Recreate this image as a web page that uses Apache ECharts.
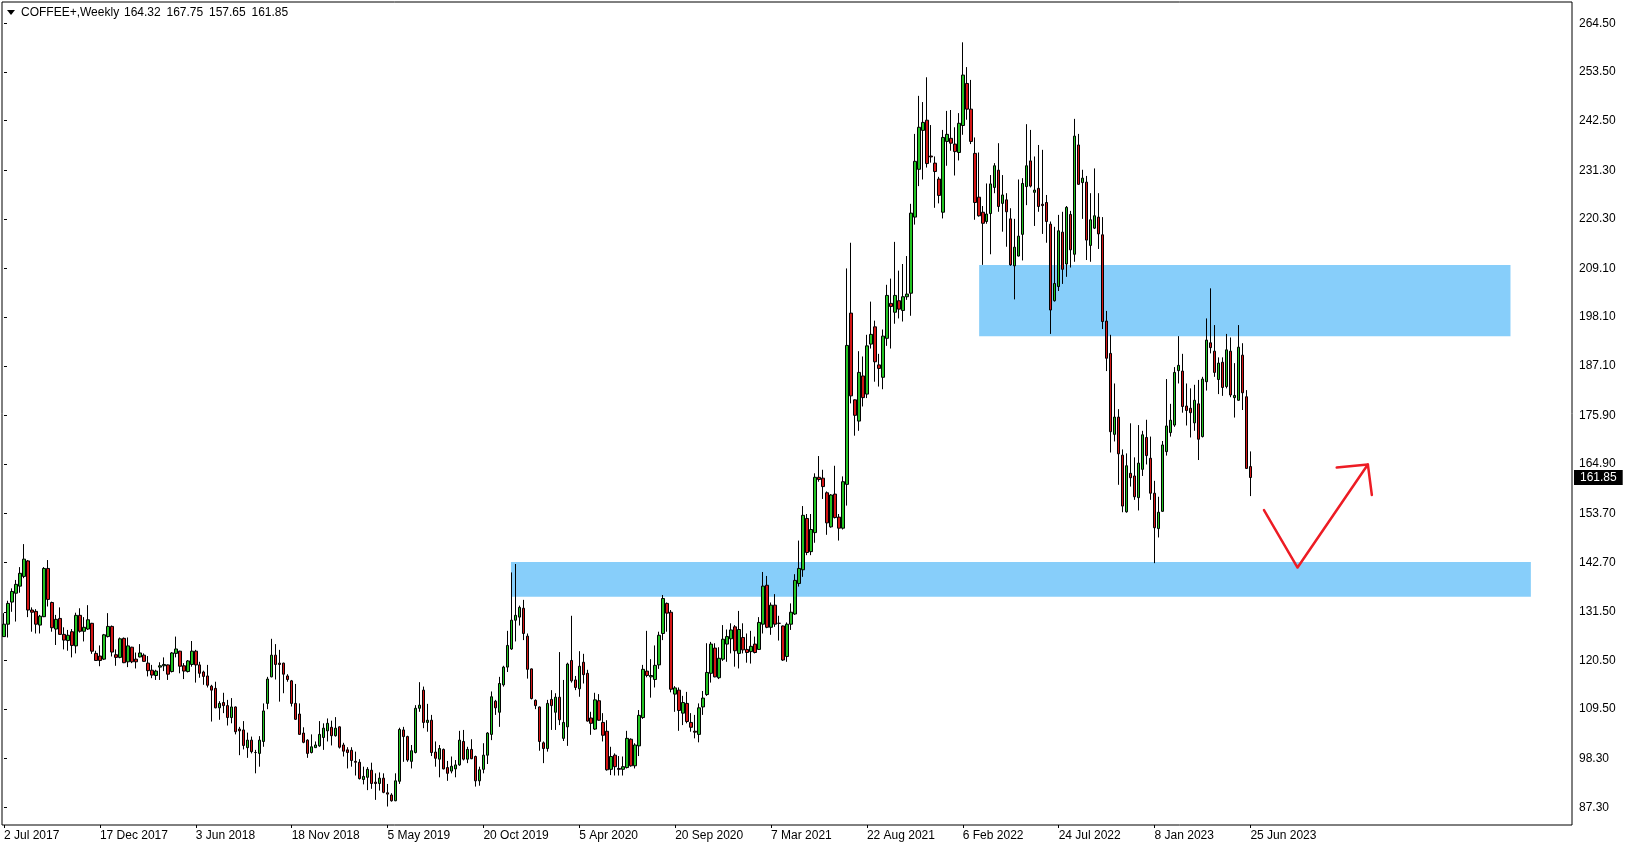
<!DOCTYPE html>
<html>
<head>
<meta charset="utf-8">
<script src="https://cdn.jsdelivr.net/npm/echarts@6/dist/echarts.min.js"></script>
<style>
html,body{margin:0;padding:0;background:#fff;}
#chart{width:1629px;height:850px;}
</style>
</head>
<body>
<div id="chart"></div>
<script>
// ---- data (weekly bars, 2 Jul 2017 .. 25 Jun 2023) ----
const opens = [
125.9,128.7,133.7,135.7,137.3,139.5,143.0,131.9,131.6,128.5,
130.4,141.3,133.6,127.6,130.0,126.4,125.0,127.0,123.8,130.7,
127.1,127.6,128.9,122.1,121.5,120.8,125.9,128.2,121.8,121.2,
125.5,120.2,123.5,120.8,121.3,121.7,119.9,118.3,117.1,119.0,
119.3,119.5,118.0,122.1,122.6,119.3,118.0,119.6,122.6,119.5,
117.9,117.0,114.7,114.2,109.8,111.0,110.3,107.6,110.0,105.0,
104.8,100.8,102.5,99.7,99.5,102.2,110.8,116.8,121.7,119.9,
119.9,117.0,115.9,110.8,108.4,104.1,102.5,99.7,100.8,101.2,
103.1,104.6,105.4,103.5,105.5,101.4,100.3,100.2,97.7,97.5,
93.6,94.1,95.7,93.0,92.7,93.9,90.6,90.1,88.8,93.2,
104.8,103.3,97.7,99.7,109.7,113.8,106.5,107.0,99.8,98.2,
100.4,96.3,95.5,96.0,96.9,102.2,98.2,100.4,98.8,93.3,
95.9,99.1,103.8,111.3,108.8,115.0,119.0,123.1,129.6,130.3,
132.3,126.0,118.6,111.5,110.0,101.9,100.6,111.7,108.8,112.2,
102.9,105.5,120.5,116.1,114.1,120.1,117.6,107.5,105.0,111.4,
106.5,104.5,95.9,99.1,96.1,95.9,96.3,102.7,96.7,101.2,
107.6,118.1,116.8,116.2,119.5,126.6,133.4,131.4,112.9,113.8,
108.6,110.8,106.5,104.5,103.8,110.0,112.8,117.6,123.3,116.6,
120.8,124.2,125.4,128.1,122.1,125.7,123.0,122.5,124.2,123.0,
128.7,137.5,128.0,133.0,128.9,128.3,121.4,128.7,131.0,137.9,
141.0,152.6,145.1,149.4,161.9,161.7,158.4,150.7,158.1,152.9,
150.4,160.3,199.0,179.4,174.6,184.8,180.7,192.0,195.9,187.3,
184.5,193.3,201.2,199.2,201.8,199.6,202.7,203.5,220.7,231.5,
240.3,242.6,234.5,232.9,229.3,221.8,237.8,238.5,237.2,235.3,
241.4,250.9,245.1,235.1,225.2,221.8,219.7,221.5,227.4,231.3,
223.8,224.6,220.3,209.7,211.9,216.8,227.6,233.4,226.3,227.2,
223.6,224.0,219.1,201.8,205.0,217.3,210.1,221.3,212.3,237.0,
228.5,228.6,214.3,218.2,220.7,216.7,197.2,189.9,171.6,175.5,
166.9,154.1,162.8,162.2,157.3,163.7,170.9,166.2,158.3,150.3,
154.2,167.7,172.0,173.7,186.0,185.9,178.0,177.5,174.2,178.5,
171.1,183.5,192.3,190.4,184.0,187.9,182.4,190.4,179.9,179.3,
189.5,180.1,164.32
];
const highs = [
131.2,134.0,136.8,138.7,141.6,146.8,143.2,132.5,132.1,130.8,
141.6,143.2,133.8,130.8,132.5,128.0,127.4,127.6,131.3,132.3,
130.3,133.0,129.0,122.7,123.9,126.5,131.2,128.4,123.0,125.7,
125.7,125.7,123.6,122.3,124.2,122.1,121.5,119.5,118.4,120.1,
121.2,119.6,122.4,125.9,122.7,119.9,120.6,124.9,122.9,120.2,
118.2,119.5,115.0,115.7,111.3,113.2,111.6,112.0,110.1,105.5,
106.8,104.2,103.3,100.3,103.4,110.8,116.8,125.4,124.2,122.9,
120.0,117.4,116.1,115.2,110.8,105.4,102.7,103.8,102.2,106.8,
106.3,107.4,106.9,107.7,105.6,101.9,100.9,100.9,99.9,98.2,
96.5,96.4,97.4,95.0,95.2,95.0,92.6,90.5,95.0,105.3,
105.5,103.5,101.4,110.4,115.6,114.6,110.7,108.2,102.2,101.4,
100.6,97.8,98.8,98.0,104.6,104.8,101.0,102.7,99.0,96.5,
101.8,104.3,113.5,111.6,116.8,119.3,127.2,140.4,142.3,132.9,
134.2,126.6,118.7,111.7,110.1,102.2,111.6,113.8,113.1,122.4,
116.1,120.0,130.6,117.0,122.6,122.0,118.4,108.9,113.2,112.9,
108.6,107.0,101.0,99.5,98.9,98.8,104.6,102.9,101.8,109.3,
119.5,127.2,120.8,123.9,127.0,135.3,133.6,131.9,114.7,114.4,
112.5,113.4,108.6,108.2,110.8,113.6,124.4,124.7,124.4,123.5,
128.5,127.5,128.9,128.5,131.7,128.9,126.6,127.2,125.9,130.3,
140.5,139.6,133.6,135.5,130.6,128.4,129.1,133.4,140.0,147.6,
155.4,153.6,153.6,162.8,166.7,163.6,158.7,158.1,164.5,153.6,
162.1,209.1,214.9,179.5,190.4,189.2,194.1,201.6,197.3,189.8,
195.3,205.4,206.8,215.1,208.6,210.1,211.9,223.7,239.5,248.1,
246.7,252.3,241.5,234.4,229.8,240.4,244.7,244.9,241.0,244.2,
260.2,254.6,251.7,238.7,235.3,223.2,228.3,230.2,232.9,237.4,
230.2,226.1,222.7,220.3,229.2,229.5,241.7,240.4,234.4,237.0,
235.9,225.7,219.7,218.5,221.2,221.9,223.2,222.1,242.9,239.5,
231.4,230.0,226.1,231.7,226.1,220.7,199.5,194.1,183.1,177.3,
168.2,167.3,174.1,166.4,173.7,172.4,174.9,171.1,161.1,157.5,
170.1,184.1,178.5,186.8,193.8,189.8,183.1,182.0,182.8,183.9,
184.6,197.8,204.6,196.3,189.0,189.0,194.3,193.5,187.7,196.3,
192.2,181.6,167.75
];
const lows = [
125.9,125.7,131.5,129.3,135.8,139.1,130.3,127.0,126.6,126.6,
130.3,132.7,127.0,124.0,126.3,123.0,122.7,121.2,122.1,126.8,
124.8,127.4,122.0,120.4,119.2,120.6,125.7,121.4,119.3,121.0,
119.9,119.0,119.9,118.7,121.2,120.2,116.9,116.5,116.1,116.1,
118.1,116.1,117.8,121.2,117.6,116.3,117.8,119.1,115.5,116.6,
115.0,114.4,106.7,109.7,107.1,108.6,105.8,106.3,103.8,99.1,
100.4,98.5,99.5,95.0,96.5,101.0,109.5,116.7,116.2,111.2,
113.1,115.7,110.1,107.1,103.7,101.8,98.5,99.5,100.8,101.0,
100.3,102.2,101.3,103.3,100.6,98.8,96.1,96.5,94.5,93.6,
92.5,91.2,91.5,89.0,91.1,90.5,87.5,88.6,88.7,92.6,
97.6,97.6,96.1,99.5,108.9,105.2,104.4,98.9,96.5,94.1,
95.9,93.3,95.0,94.1,96.7,97.9,97.3,98.2,92.0,92.2,
95.0,97.1,102.5,108.2,105.5,114.6,117.9,122.9,124.8,128.4,
125.1,116.4,111.7,109.5,100.1,97.3,99.9,104.8,104.8,105.9,
102.3,101.2,115.5,113.8,112.3,115.3,106.7,103.7,104.8,106.9,
102.2,95.6,94.6,94.5,94.5,94.5,96.1,96.5,96.1,98.9,
107.3,116.7,112.1,114.4,118.6,125.1,127.0,113.3,108.9,104.6,
105.9,106.3,104.4,102.9,102.0,108.2,112.5,115.5,116.7,116.3,
120.4,120.2,122.1,119.1,118.7,122.1,120.0,119.8,122.1,122.9,
126.6,127.8,126.3,128.1,125.0,120.4,120.2,127.4,130.8,137.2,
139.4,144.3,144.3,147.1,160.9,157.0,148.9,150.5,152.6,147.6,
150.1,155.5,178.6,171.3,172.4,177.9,179.8,191.0,183.5,182.4,
181.8,191.6,191.0,196.6,197.8,197.1,202.0,198.4,219.0,227.7,
229.2,231.9,233.0,222.8,223.8,220.4,232.3,235.7,230.1,233.5,
239.3,242.7,237.2,220.1,220.8,209.9,219.2,212.3,226.1,221.9,
217.4,214.0,209.7,202.1,211.8,210.9,223.4,227.4,218.7,221.9,
216.9,214.9,194.3,201.6,204.0,205.6,207.2,209.3,210.6,228.0,
220.3,211.0,210.6,218.0,213.5,195.4,185.9,167.5,170.0,160.2,
154.0,153.9,159.8,156.8,154.4,162.2,164.8,156.8,142.5,148.3,
154.1,166.8,171.1,173.3,183.1,176.5,173.6,170.9,172.4,165.8,
170.9,181.5,189.9,184.6,180.7,180.3,182.0,180.0,175.4,179.2,
177.1,163.8,157.65
];
const closes = [
128.7,133.4,136.1,137.7,140.2,143.4,131.9,131.4,128.7,130.5,
141.3,134.3,127.9,129.8,126.4,125.1,126.2,123.9,130.7,127.1,
128.0,129.7,122.6,120.5,120.5,126.3,128.2,122.4,121.2,125.4,
120.0,123.8,120.2,120.2,122.2,120.3,118.2,117.2,118.1,119.3,
119.6,117.4,122.2,123.1,119.2,118.1,120.4,122.6,119.5,117.6,
116.9,114.9,113.8,109.8,110.8,110.3,107.6,110.0,104.4,104.6,
101.3,102.5,99.9,99.7,102.5,109.1,116.3,121.7,119.6,119.6,
117.4,116.2,110.8,107.2,103.8,102.0,99.5,101.0,101.4,103.8,
105.2,106.3,103.5,105.2,100.9,100.0,99.7,97.9,97.5,93.8,
94.3,95.9,92.7,92.7,93.9,90.7,90.3,88.8,93.3,104.9,
103.3,98.0,100.1,109.7,110.4,106.5,107.0,99.7,98.4,100.6,
96.0,95.0,96.6,96.9,102.5,98.2,100.4,98.3,93.3,95.8,
99.1,104.1,112.3,109.8,115.3,119.0,123.9,129.6,130.7,132.5,
126.6,118.5,111.9,110.3,102.2,100.6,110.8,110.3,112.2,107.1,
106.5,119.7,115.9,114.4,119.2,117.3,106.8,106.3,111.6,107.0,
103.6,95.8,98.8,96.5,95.9,96.5,102.9,96.7,101.4,108.1,
118.5,117.1,117.1,119.4,126.2,134.5,131.2,114.0,114.3,109.2,
111.0,106.7,105.4,104.3,109.8,112.0,117.8,124.2,116.8,121.0,
125.3,125.9,127.4,122.7,127.5,122.9,122.3,123.7,122.3,129.1,
137.3,128.0,133.0,128.7,128.9,120.6,128.7,131.4,138.6,141.3,
153.3,144.9,150.1,161.9,161.4,159.8,151.6,157.9,152.8,150.4,
160.9,191.7,180.3,175.9,185.6,179.9,191.6,194.2,188.0,186.5,
193.8,203.0,200.5,203.0,199.9,202.7,203.3,221.6,233.3,241.0,
242.1,232.8,234.3,231.0,225.6,238.7,239.4,237.4,235.5,241.9,
252.8,245.1,237.8,224.0,221.0,219.3,221.4,228.2,232.3,223.1,
225.7,221.9,209.9,213.9,216.4,228.3,232.3,227.7,226.8,223.1,
223.3,219.7,199.7,205.7,217.6,208.9,222.9,213.3,239.0,228.1,
229.5,215.5,220.1,221.0,216.9,197.1,188.8,172.2,175.5,167.2,
155.4,164.5,161.8,157.5,165.1,171.5,166.8,158.3,150.5,154.0,
169.2,173.5,174.8,185.6,187.2,177.9,177.0,176.5,179.3,170.5,
184.1,192.9,191.2,185.6,187.7,182.2,190.7,180.5,180.4,191.3,
181.0,163.9,161.85
];
// x-axis tick labels (every 24 weeks starting at bar 0)
const tickLabels = ['2 Jul 2017','17 Dec 2017','3 Jun 2018','18 Nov 2018','5 May 2019','20 Oct 2019',
  '5 Apr 2020','20 Sep 2020','7 Mar 2021','22 Aug 2021','6 Feb 2022','24 Jul 2022','8 Jan 2023','25 Jun 2023'];
const yTicks = [87.30,98.30,109.50,120.50,131.50,142.70,153.70,164.90,175.90,187.10,198.10,209.10,220.30,231.30,242.50,253.50,264.50];
// zones: [fromBar, toBar, top price, bottom price]
const zones = [[244.1, 377.1, 209.9, 193.8], [126.9, 382.2, 142.75, 134.9]];
// hand-drawn arrow: [bar position, price]
const arrowPath = [[315.4, 154.5], [323.8, 141.5], [341.4, 164.8]];
const arrowHead = [[333.6, 164.1], [341.4, 164.8], [342.4, 157.9]];
const headerValues = [164.32, 167.75, 157.65, 161.85];
const lastPrice = 161.85;
const SLOTS = 393;
const LABEL_STEP = 24;

const categories = Array.from({length: SLOTS}, (_, i) => String(i));
const candleData = opens.map((o, i) => [o, closes[i], lows[i], highs[i]]);
const nBars = opens.length;
const FONT = '"Liberation Sans", Arial, sans-serif';

const headerGraphics = [
  {type: 'polygon', shape: {points: [[7, 10], [15, 10], [11, 15]]}, style: {fill: '#000'}, z: 10},
  {type: 'text', left: 21, top: 7, z: 10, style: {text: 'COFFEE+,Weekly', font: '12px ' + FONT, fill: '#000'}}
];
headerValues.forEach((v, i) => {
  headerGraphics.push({type: 'text', left: 124 + i * 42.5, top: 7, z: 10,
    style: {text: v.toFixed(2), font: '12px ' + FONT, fill: '#000'}});
});

const chart = echarts.init(document.getElementById('chart'));
chart.setOption({
  animation: false,
  backgroundColor: '#ffffff',
  grid: {left: 2, top: 2, width: 1570, height: 823, show: true, borderColor: '#000', borderWidth: 1, backgroundColor: '#fff'},
  xAxis: [{
    type: 'category', data: categories, boundaryGap: true, position: 'bottom',
    axisLine: {show: false},
    splitLine: {show: false},
    axisTick: {show: true, alignWithLabel: true, length: 3, lineStyle: {color: '#000'},
      interval: (i) => i % LABEL_STEP === 0 && i < nBars},
    axisLabel: {
      interval: (i) => i % LABEL_STEP === 0 && i < nBars,
      formatter: (v, i) => tickLabels[Math.round(Number(v) / LABEL_STEP)] || '',
      align: 'left', margin: 5, color: '#000', fontFamily: FONT, fontSize: 12
    }
  }, {
    type: 'value', min: -0.5, max: SLOTS - 0.5, show: false
  }],
  yAxis: [{
    type: 'value', position: 'right', min: 83.32, max: 269.31, scale: true,
    axisLine: {show: false},
    splitLine: {show: false},
    axisTick: {show: true, length: 3, lineStyle: {color: '#000'}, customValues: yTicks},
    axisLabel: {customValues: yTicks, formatter: (v) => Number(v).toFixed(2), margin: 7,
      color: '#000', fontFamily: FONT, fontSize: 12}
  }],
  series: [{
    type: 'custom', name: 'zones', xAxisIndex: 1, yAxisIndex: 0, z: 1, silent: true,
    data: zones,
    encode: {x: [0, 1], y: [2, 3]},
    renderItem: function (params, api) {
      const p0 = api.coord([api.value(0), api.value(2)]);
      const p1 = api.coord([api.value(1), api.value(3)]);
      return {type: 'rect', shape: {x: p0[0], y: p0[1], width: p1[0] - p0[0], height: p1[1] - p0[1]},
        style: {fill: '#87cefa'}};
    }
  }, {
    type: 'candlestick', name: 'COFFEE+', xAxisIndex: 0, yAxisIndex: 0, z: 2,
    data: candleData, barWidth: 3,
    itemStyle: {color: '#22c322', color0: '#d41515', borderColor: '#000', borderColor0: '#000', borderWidth: 1},
    markLine: {
      silent: true, symbol: 'none', animation: false,
      lineStyle: {color: 'rgba(255,255,255,0)', width: 1, type: 'solid'},
      label: {show: true, position: 'end', distance: 2, formatter: lastPrice.toFixed(2),
        backgroundColor: '#000', color: '#fff', padding: [2, 6, 1, 6], fontFamily: FONT, fontSize: 12},
      data: [{yAxis: lastPrice}]
    }
  }, {
    type: 'line', name: 'arrow', xAxisIndex: 1, yAxisIndex: 0, z: 5, silent: true,
    data: arrowPath, symbol: 'none',
    lineStyle: {color: '#ed1c24', width: 2.5, cap: 'round', join: 'round'}
  }, {
    type: 'line', name: 'arrowHead', xAxisIndex: 1, yAxisIndex: 0, z: 5, silent: true,
    data: arrowHead, symbol: 'none',
    lineStyle: {color: '#ed1c24', width: 2.5, cap: 'round', join: 'round'}
  }],
  graphic: headerGraphics
});
</script>
</body>
</html>
